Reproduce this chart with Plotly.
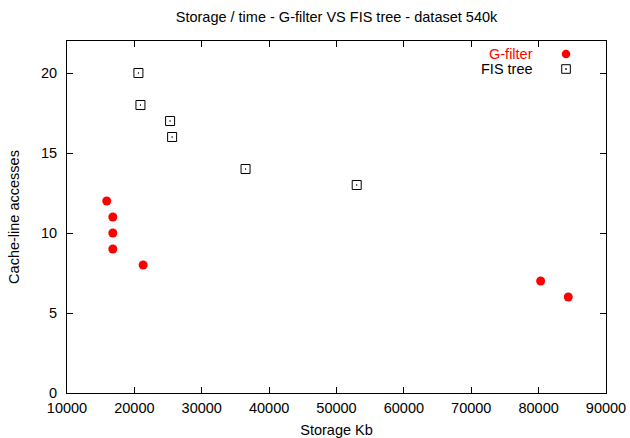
import plotly.graph_objects as go

# Data
gfilter_storage = [15900, 16800, 16800, 16800, 21300, 80300, 84400]
gfilter_access = [12, 11, 10, 9, 8, 7, 6]
fis_storage = [20600, 20900, 25300, 25600, 36500, 53000]
fis_access = [20, 18, 17, 16, 14, 13]

x_ticks = [10000, 20000, 30000, 40000, 50000, 60000, 70000, 80000, 90000]
y_ticks = [0, 5, 10, 15, 20]

FONT = "Liberation Sans, Arial, sans-serif"
FS = 14.5

fig = go.Figure()
fig.add_trace(go.Scatter(
    x=gfilter_storage, y=gfilter_access, mode="markers", name="G-filter",
    marker=dict(symbol="circle", size=9, color="#ff0000", line=dict(width=0)),
    cliponaxis=False))
fig.add_trace(go.Scatter(
    x=fis_storage, y=fis_access, mode="markers", name="FIS tree",
    marker=dict(symbol="square-open-dot", size=9, color="#000000", line=dict(width=1)),
    cliponaxis=False))

# Gnuplot-style key: text right-aligned, sample on the right
key_items = [("G-filter", "#ff0000", 54), ("FIS tree", "#000000", 69)]
W, H = 630, 438
L, R, T, B = 66.5, 24, 41, 45
pw, ph = W - L - R, H - T - B

def px_to_paper(xp, yp):
    return (xp - L) / pw, 1 - (yp - T) / ph

for i, (label, col, ypx) in enumerate(key_items):
    xt, yt = px_to_paper(535, ypx)
    fig.add_annotation(x=xt, y=yt, xref="paper", yref="paper", text=label,
                       showarrow=False, xanchor="right", yanchor="middle",
                       font=dict(family=FONT, size=FS, color=col))
# key samples
cx, cy = px_to_paper(566, 54)
r = 4.3
fig.add_shape(type="circle", xref="paper", yref="paper",
              x0=cx - r / pw, x1=cx + r / pw, y0=cy - r / ph, y1=cy + r / ph,
              fillcolor="#ff0000", line=dict(width=0))
sx, sy = px_to_paper(566, 69)
s = 4.3
fig.add_shape(type="rect", xref="paper", yref="paper",
              x0=sx - s / pw, x1=sx + s / pw, y0=sy - s / ph, y1=sy + s / ph,
              fillcolor="rgba(0,0,0,0)", line=dict(width=1, color="#000000"))
d = 0.8
fig.add_shape(type="rect", xref="paper", yref="paper",
              x0=sx - d / pw, x1=sx + d / pw, y0=sy - d / ph, y1=sy + d / ph,
              fillcolor="#000000", line=dict(width=0))

axis_common = dict(showgrid=False, zeroline=False, showline=True, linecolor="#000000",
                   linewidth=1, mirror="ticks", ticks="inside", ticklen=6,
                   tickcolor="#000000", tickwidth=1, automargin=False,
                   tickfont=dict(family=FONT, size=FS, color="#000000"))

fig.update_layout(
    width=W, height=H,
    margin=dict(l=L, r=R, t=T, b=B),
    paper_bgcolor="#ffffff", plot_bgcolor="#ffffff",
    showlegend=False,
    title=dict(text="Storage / time - G-filter VS FIS tree - dataset 540k",
               x=0.5, xref="paper", xanchor="center", y=1 - 17 / H, yanchor="middle",
               font=dict(family=FONT, size=FS, color="#000000"), automargin=False),
    xaxis=dict(range=[10000, 90000], tickvals=x_ticks,
               ticktext=[str(v) for v in x_ticks],
               title=dict(text="Storage Kb", font=dict(family=FONT, size=FS, color="#000000"),
                          standoff=10),
               ticklabelstandoff=2,
               **axis_common),
    yaxis=dict(range=[0, 22], tickvals=y_ticks,
               ticktext=[str(v) for v in y_ticks],
               title=dict(text="Cache-line accesses", font=dict(family=FONT, size=FS, color="#000000"),
                          standoff=17),
               ticklabelstandoff=6,
               **axis_common),
)

fig.write_html("out.html", config={"displayModeBar": False},
               post_script="document.body.style.margin='0';document.body.style.overflow='hidden';")
